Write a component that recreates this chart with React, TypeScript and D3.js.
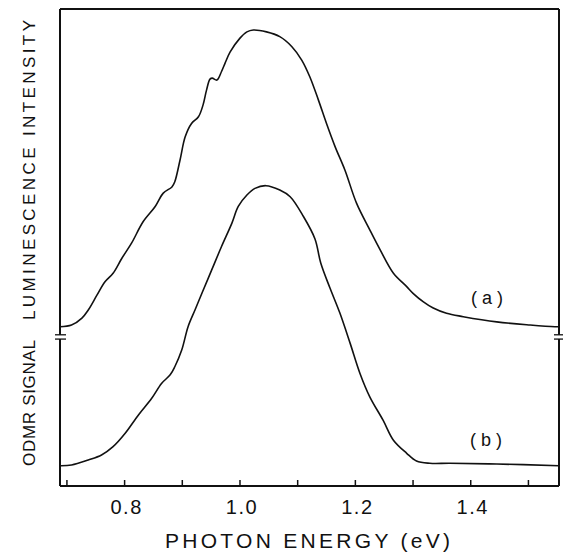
import React from "react";
import * as d3 from "d3";

// Curve (a): luminescence intensity (arbitrary units, offset)
const energyA = [0.688, 0.708, 0.726, 0.737, 0.752, 0.766, 0.780, 0.795, 0.812, 0.832, 0.853, 0.867, 0.882, 0.887, 0.896, 0.905, 0.916, 0.928, 0.936, 0.942, 0.948, 0.952, 0.960, 0.968, 0.974, 0.983, 1.000, 1.012, 1.023, 1.046, 1.069, 1.090, 1.107, 1.121, 1.136, 1.150, 1.165, 1.182, 1.202, 1.225, 1.243, 1.266, 1.289, 1.300, 1.318, 1.335, 1.358, 1.387, 1.445, 1.503, 1.546, 1.553];
const lumA = [33.4, 33.75, 35.2, 36.9, 40.0, 42.8, 44.6, 47.7, 50.9, 55.4, 58.6, 61.4, 62.7, 63.8, 68.3, 73.2, 76.0, 77.4, 79.9, 83.0, 85.3, 85.5, 85.1, 86.9, 88.6, 91.0, 93.9, 95.2, 95.6, 95.2, 94.2, 92.1, 89.3, 85.8, 80.9, 76.0, 71.1, 66.2, 59.3, 53.7, 49.5, 44.6, 41.8, 40.4, 38.6, 37.3, 36.2, 35.5, 34.4, 33.75, 33.4, 33.4];

// Curve (b): ODMR signal (arbitrary units)
const energyB = [0.688, 0.708, 0.737, 0.760, 0.780, 0.801, 0.824, 0.847, 0.864, 0.879, 0.887, 0.899, 0.910, 0.922, 0.934, 0.951, 0.968, 0.986, 0.997, 1.012, 1.026, 1.045, 1.069, 1.087, 1.110, 1.130, 1.140, 1.156, 1.173, 1.191, 1.208, 1.225, 1.248, 1.266, 1.289, 1.306, 1.329, 1.364, 1.445, 1.553];
const odmrB = [4.26, 4.4, 5.45, 6.5, 8.24, 11.05, 14.9, 18.4, 21.5, 23.3, 25.0, 28.5, 33.4, 36.9, 40.4, 45.3, 50.2, 55.1, 58.6, 61.0, 62.4, 62.96, 62.05, 60.65, 56.5, 51.8, 46.75, 41.5, 36.3, 29.9, 23.6, 18.7, 13.8, 9.6, 6.86, 5.24, 4.76, 4.76, 4.61, 4.26];

const tickValues = [0.7, 0.8, 0.9, 1.0, 1.1, 1.2, 1.3, 1.4, 1.5];
const tickLabels = ["0.8", "1.0", "1.2", "1.4"];
const breakValues = [31.7, 30.8];
const xDomain = [0.688, 1.553];
const yDomain = [0, 100];

const W = 563;
const H = 554;
const left = 60, right = 559, top = 9, bottom = 486;

export default function App() {
  const x = d3.scaleLinear().domain(xDomain).range([left, right]);
  const y = d3.scaleLinear().domain(yDomain).range([bottom, top]);
  const line = d3
    .line<[number, number]>()
    .x((d) => x(d[0]))
    .y((d) => y(d[1]))
    .curve(d3.curveCatmullRom.alpha(0.5));
  const dataA = energyA.map((e, i) => [e, lumA[i]] as [number, number]);
  const dataB = energyB.map((e, i) => [e, odmrB[i]] as [number, number]);
  const b0 = y(breakValues[0]);
  const b1 = y(breakValues[1]);
  const font = "'Liberation Sans', Arial, sans-serif";

  return (
    <svg width={W} height={H} style={{ position: "absolute", left: 0, top: 0, background: "#fff" }}>
      <rect x={0} y={0} width={W} height={H} fill="#fff" />
      {/* frame: top, bottom */}
      <line x1={left} x2={right} y1={top} y2={top} stroke="#111" strokeWidth={2} />
      <line x1={left} x2={right} y1={bottom} y2={bottom} stroke="#111" strokeWidth={2} />
      {/* left/right axes with break */}
      {[left, right].map((xx, i) => (
        <g key={i}>
          <line x1={xx} x2={xx} y1={top} y2={b0} stroke="#111" strokeWidth={2} />
          <line x1={xx} x2={xx} y1={b1} y2={bottom} stroke="#111" strokeWidth={2} />
          <line x1={xx - 5} x2={xx + 6} y1={b0} y2={b0} stroke="#111" strokeWidth={1.3} />
          <line x1={xx - 5} x2={xx + 6} y1={b1} y2={b1} stroke="#111" strokeWidth={1.3} />
        </g>
      ))}
      {/* ticks */}
      {tickValues.map((t) => (
        <line key={t} x1={x(t)} x2={x(t)} y1={bottom} y2={bottom - 6} stroke="#111" strokeWidth={1.5} />
      ))}
      {tickLabels.map((t) => (
        <text
          key={t}
          x={x(+t) + 2}
          y={514}
          textAnchor="middle"
          fontFamily={font}
          fontSize={20}
          letterSpacing={1.5}
          fill="#111"
        >
          {t}
        </text>
      ))}
      {/* curves */}
      <path d={line(dataA) || ""} fill="none" stroke="#111" strokeWidth={1.6} />
      <path d={line(dataB) || ""} fill="none" stroke="#111" strokeWidth={1.6} />
      {/* curve labels */}
      <text x={471} y={304} fontFamily={font} fontSize={18} textLength={32} lengthAdjust="spacing" fill="#111">
        (a)
      </text>
      <text x={470} y={446} fontFamily={font} fontSize={18} textLength={32} lengthAdjust="spacing" fill="#111">
        (b)
      </text>
      {/* x title */}
      <text x={165} y={548} fontFamily={font} fontSize={21} textLength={285} lengthAdjust="spacing" fill="#111">
        PHOTON ENERGY (eV)
      </text>
      {/* y titles */}
      <text
        transform="translate(35,320) rotate(-90)"
        x={0}
        y={0}
        fontFamily={font}
        fontSize={17}
        textLength={300}
        lengthAdjust="spacing"
        fill="#111"
      >
        LUMINESCENCE INTENSITY
      </text>
      <text
        transform="translate(35,466) rotate(-90)"
        x={0}
        y={0}
        fontFamily={font}
        fontSize={17}
        textLength={126}
        lengthAdjust="spacing"
        fill="#111"
      >
        ODMR SIGNAL
      </text>
    </svg>
  );
}
